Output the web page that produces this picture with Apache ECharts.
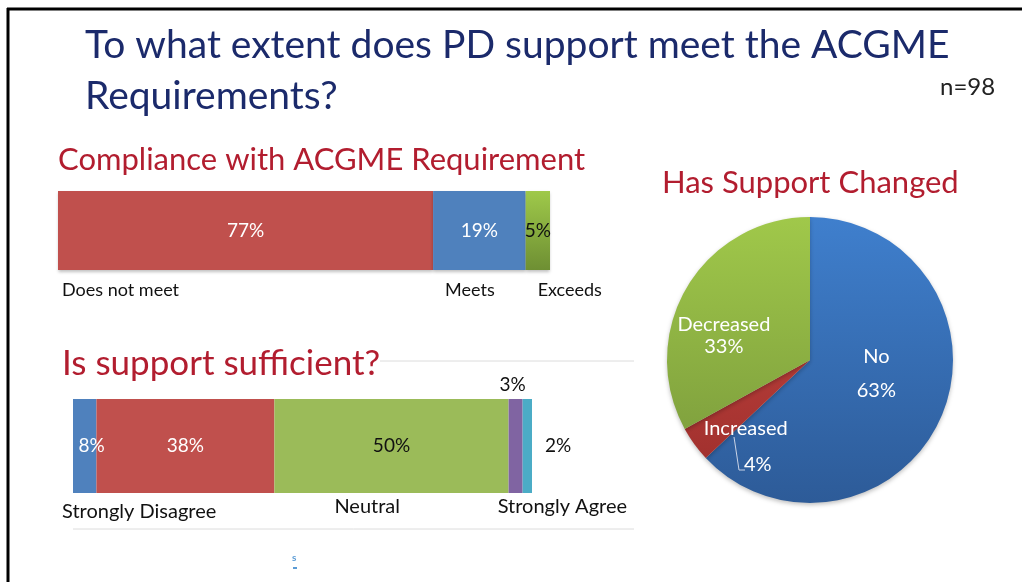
<!DOCTYPE html>
<html>
<head>
<meta charset="utf-8">
<script src="https://cdn.jsdelivr.net/npm/echarts@6/dist/echarts.min.js"></script>
<style>
  html, body { margin: 0; padding: 0; background: #fff; }
  #main { width: 1022px; height: 582px; }
</style>
</head>
<body>
<div id="main"></div>
<script>
// compliance bar
const complianceCats = ['Does not meet', 'Meets', 'Exceeds'];
const complianceVals = [77, 19, 5];

// sufficiency bar (segment lengths as drawn, labels as printed)
const sufficientCats = ['Strongly Disagree', 'Disagree', 'Neutral', 'Agree', 'Strongly Agree'];
const sufficientTicks = ['Strongly Disagree', '', 'Neutral', '', 'Strongly Agree'];
const sufficientVals = [5, 38, 50, 3, 2];
const sufficientLabels = ['8%', '38%', '50%', '3%', '2%'];

// pie
const changedCats = ['No', 'Increased', 'Decreased'];
const changedVals = [63, 4, 33];

const FONT = 'Lato';
const RED_TITLE = '#b21d2f';

const chart = echarts.init(document.getElementById('main'));

function vgrad(top, bottom) {
  return new echarts.graphic.LinearGradient(0, 0, 0, 1, [
    { offset: 0, color: top },
    { offset: 1, color: bottom }
  ]);
}

const compColors = ['#c0504d', '#4f81bd', vgrad('#9fc94a', '#6e8f33')];
const compLabelColors = ['#fff', '#fff', '#111'];
const compNameOffset = [[4, 99], [12, 99], [12, 99]];

const sufColors = ['#4f81bd', '#c0504d', '#9bbb59', '#8064a2', '#4bacc6'];
const sufNameOffset = [[-11, 113], [0, 0], [60, 108], [0, 0], [-25, 108]];

const series = [];

complianceVals.forEach((v, i) => {
  series.push({
    type: 'bar', xAxisIndex: 0, yAxisIndex: 0, stack: 'comp',
    barWidth: '100%', barGap: '-100%', silent: true,
    data: [v],
    itemStyle: {
      color: compColors[i],
      shadowColor: 'rgba(0,0,0,0.25)', shadowBlur: 3, shadowOffsetY: 2
    },
    label: {
      show: true, position: 'inside', formatter: v + '%',
      color: compLabelColors[i], fontFamily: FONT, fontSize: 19
    }
  });
});
complianceVals.forEach((v, i) => {
  series.push({
    type: 'bar', xAxisIndex: 0, yAxisIndex: 0, stack: 'compName',
    barWidth: '100%', barGap: '-100%', silent: true,
    data: [v],
    itemStyle: { color: 'rgba(0,0,0,0)' },
    label: {
      show: true, position: compNameOffset[i], formatter: complianceCats[i],
      align: 'left', verticalAlign: 'middle',
      color: '#111', fontFamily: FONT, fontSize: 18
    }
  });
});

sufficientVals.forEach((v, i) => {
  const lab = {
    show: true, position: 'inside', formatter: sufficientLabels[i],
    color: i < 2 ? '#fff' : '#111', fontFamily: FONT, fontSize: 19
  };
  if (i === 0) lab.offset = [7, 0];
  if (i === 3) { lab.position = 'top'; lab.distance = 5; lab.offset = [-3, 0]; }
  if (i === 4) { lab.position = 'right'; lab.distance = 13; }
  series.push({
    type: 'bar', xAxisIndex: 1, yAxisIndex: 1, stack: 'suf',
    barWidth: '100%', barGap: '-100%', silent: true,
    name: sufficientCats[i],
    data: [v],
    itemStyle: { color: sufColors[i] },
    label: lab
  });
});
sufficientVals.forEach((v, i) => {
  series.push({
    type: 'bar', xAxisIndex: 1, yAxisIndex: 1, stack: 'sufName',
    barWidth: '100%', barGap: '-100%', silent: true,
    data: [v],
    itemStyle: { color: 'rgba(0,0,0,0)' },
    label: {
      show: sufficientTicks[i] !== '', position: sufNameOffset[i], formatter: sufficientTicks[i],
      align: 'left', verticalAlign: 'middle',
      color: '#111', fontFamily: FONT, fontSize: 20
    }
  });
});

const pieGrad = (top, bottom) => ({
  type: 'linear', x: 0, y: 218, x2: 0, y2: 503, global: true,
  colorStops: [{ offset: 0, color: top }, { offset: 1, color: bottom }]
});
const pieColors = [
  pieGrad('#3f7fcd', '#2d5b98'),
  pieGrad('#cc4a44', '#9a2c2a'),
  pieGrad('#a0c84a', '#76953a')
];
const pieLineHeight = [34, 36, 22];
const pieShift = [[-2, -16], [-4, 43], [-22, 13]];

series.push({
  type: 'pie', center: [810, 360], radius: 143,
  startAngle: 90, clockwise: true, silent: true,
  data: changedCats.map((c, i) => ({
    name: c, value: changedVals[i],
    itemStyle: { color: pieColors[i] },
    label: {
      lineHeight: pieLineHeight[i],
      formatter: i === 1 ? '{a|{b}}\n{p|{c}%}' : '{b}\n{c}%',
      rich: i === 1 ? {
        a: { color: '#fff', fontFamily: FONT, fontSize: 20, lineHeight: 36 },
        p: { color: '#fff', fontFamily: FONT, fontSize: 20, lineHeight: 36, padding: [0, 0, 0, 24] }
      } : undefined
    }
  })),
  itemStyle: { shadowColor: 'rgba(0,0,0,0.25)', shadowBlur: 4, shadowOffsetY: 2 },
  label: {
    show: true, position: 'inside', color: '#fff',
    fontFamily: FONT, fontSize: 20
  },
  labelLine: { show: false },
  labelLayout: function (p) {
    const s = pieShift[p.dataIndex];
    return { dx: s[0], dy: s[1] };
  }
});

const redTitle = { fill: RED_TITLE, fontFamily: FONT };

chart.setOption({
  animation: false,
  grid: [
    { left: 58, top: 191, width: 492, height: 79 },
    { left: 73, top: 399, width: 459, height: 94 }
  ],
  xAxis: [
    { gridIndex: 0, type: 'value', min: 0, max: 101, show: false },
    { gridIndex: 1, type: 'value', min: 0, max: 98, show: false }
  ],
  yAxis: [
    { gridIndex: 0, type: 'category', data: ['compliance'], show: false },
    { gridIndex: 1, type: 'category', data: ['sufficient'], show: false }
  ],
  graphic: [
    // slide frame
    { type: 'line', shape: { x1: 7, y1: 9, x2: 1022, y2: 9 }, style: { stroke: '#000', lineWidth: 3 } },
    { type: 'line', shape: { x1: 8, y1: 8, x2: 8, y2: 582 }, style: { stroke: '#000', lineWidth: 3 } },
    // gray rules around the second bar
    { type: 'line', shape: { x1: 380, y1: 361, x2: 634, y2: 361 }, style: { stroke: '#dcdcdc', lineWidth: 1 } },
    { type: 'line', shape: { x1: 73, y1: 529, x2: 634, y2: 529 }, style: { stroke: '#dcdcdc', lineWidth: 1 } },
    // main title
    { type: 'text', left: 85, top: 20, style: {
      text: 'To what extent does PD support meet the ACGME\nRequirements?',
      fill: '#1b2a6b', fontFamily: FONT, fontSize: 39, lineHeight: 51 } },
    { type: 'text', left: 940, top: 75, style: { text: 'n=98', fill: '#222', fontFamily: FONT, fontSize: 24 } },
    // sub titles
    { type: 'text', left: 58, top: 144, style: Object.assign({ text: 'Compliance with ACGME Requirement', fontSize: 31 }, redTitle) },
    { type: 'text', left: 62, top: 346, style: Object.assign({ text: 'Is support sufficient?', fontSize: 35 }, redTitle) },
    { type: 'text', left: 662, top: 167, style: Object.assign({ text: 'Has Support Changed', fontSize: 31 }, redTitle) },
    // leader for the Increased slice
    { type: 'polyline', z: 100, shape: { points: [[734, 437], [739, 470], [745, 470]] },
      style: { stroke: '#c9d3e6', lineWidth: 1, fill: null } },
    // stray glyph at the bottom
    { type: 'text', left: 292, top: 553, style: { text: 's', fill: '#5b9bd5', fontFamily: FONT, fontSize: 10, fontWeight: 'bold' } },
    { type: 'rect', shape: { x: 293, y: 567, width: 4, height: 2 }, style: { fill: '#5b9bd5' } }
  ],
  series: series
});
</script>
</body>
</html>
